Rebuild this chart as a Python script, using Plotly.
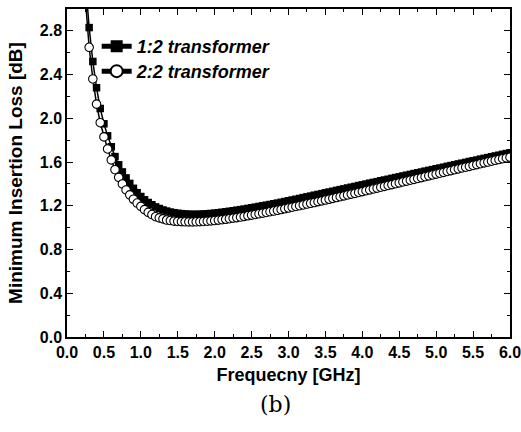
import plotly.graph_objects as go

freq = [0.25, 0.30, 0.35, 0.40, 0.45, 0.50, 0.55, 0.60, 0.65, 0.70, 0.75, 0.80, 0.85, 0.90, 0.95,
        1.00, 1.05, 1.10, 1.15, 1.20, 1.25, 1.30, 1.35, 1.40, 1.45, 1.50, 1.55, 1.60, 1.65, 1.70, 1.75,
        1.80, 1.85, 1.90, 1.95, 2.00, 2.05, 2.10, 2.15, 2.20, 2.25, 2.30, 2.35, 2.40, 2.45, 2.50,
        2.55, 2.60, 2.65, 2.70, 2.75, 2.80, 2.85, 2.90, 2.95, 3.00, 3.05, 3.10, 3.15, 3.20, 3.25,
        3.30, 3.35, 3.40, 3.45, 3.50, 3.55, 3.60, 3.65, 3.70, 3.75, 3.80, 3.85, 3.90, 3.95, 4.00,
        4.05, 4.10, 4.15, 4.20, 4.25, 4.30, 4.35, 4.40, 4.45, 4.50, 4.55, 4.60, 4.65, 4.70, 4.75,
        4.80, 4.85, 4.90, 4.95, 5.00, 5.05, 5.10, 5.15, 5.20, 5.25, 5.30, 5.35, 5.40, 5.45, 5.50,
        5.55, 5.60, 5.65, 5.70, 5.75, 5.80, 5.85, 5.90, 5.95, 6.00]

loss_1to2 = [3.25, 2.83, 2.52, 2.28, 2.09, 1.95, 1.84, 1.74, 1.65, 1.575, 1.51, 1.455, 1.405, 1.36, 1.32,
             1.285, 1.255, 1.23, 1.21, 1.19, 1.175, 1.162, 1.152, 1.143, 1.137, 1.132, 1.128, 1.125, 1.123, 1.122, 1.122,
             1.123, 1.125, 1.127, 1.130, 1.133, 1.137, 1.141, 1.145, 1.150, 1.155, 1.160, 1.165, 1.170, 1.176, 1.182,
             1.188, 1.194, 1.200, 1.206, 1.212, 1.219, 1.225, 1.232, 1.239, 1.246, 1.253, 1.260, 1.267, 1.275, 1.282,
             1.289, 1.297, 1.304, 1.311, 1.319, 1.326, 1.333, 1.341, 1.348, 1.355, 1.363, 1.370, 1.377, 1.385, 1.392,
             1.399, 1.407, 1.414, 1.421, 1.429, 1.436, 1.443, 1.451, 1.458, 1.465, 1.473, 1.480, 1.487, 1.495, 1.502,
             1.509, 1.517, 1.524, 1.531, 1.539, 1.546, 1.553, 1.561, 1.568, 1.575, 1.583, 1.590, 1.597, 1.605, 1.612,
             1.619, 1.627, 1.634, 1.641, 1.649, 1.656, 1.663, 1.671, 1.678, 1.685]

loss_2to2 = [3.08, 2.65, 2.36, 2.13, 1.96, 1.83, 1.72, 1.62, 1.53, 1.46, 1.40, 1.345, 1.30, 1.26, 1.225,
             1.195, 1.165, 1.14, 1.12, 1.10, 1.09, 1.08, 1.07, 1.065, 1.06, 1.057, 1.055, 1.054, 1.053, 1.053, 1.054,
             1.055, 1.057, 1.059, 1.062, 1.065, 1.069, 1.073, 1.077, 1.082, 1.087, 1.092, 1.097, 1.103, 1.109, 1.115,
             1.121, 1.127, 1.133, 1.139, 1.146, 1.152, 1.159, 1.166, 1.173, 1.180, 1.187, 1.194, 1.201, 1.208, 1.216,
             1.223, 1.230, 1.238, 1.245, 1.253, 1.260, 1.268, 1.276, 1.283, 1.291, 1.299, 1.307, 1.314, 1.322, 1.330,
             1.338, 1.346, 1.354, 1.362, 1.370, 1.378, 1.386, 1.394, 1.402, 1.410, 1.418, 1.426, 1.434, 1.442, 1.450,
             1.458, 1.466, 1.474, 1.482, 1.490, 1.498, 1.506, 1.514, 1.522, 1.530, 1.538, 1.546, 1.553, 1.561, 1.569,
             1.577, 1.585, 1.593, 1.600, 1.608, 1.616, 1.623, 1.631, 1.638, 1.645]

series_names = ["1:2 transformer", "2:2 transformer"]
x_ticks = [0.0, 0.5, 1.0, 1.5, 2.0, 2.5, 3.0, 3.5, 4.0, 4.5, 5.0, 5.5, 6.0]
y_ticks = [0.0, 0.4, 0.8, 1.2, 1.6, 2.0, 2.4, 2.8]

FONT = "Liberation Sans, Arial, sans-serif"

fig = go.Figure()
fig.add_trace(go.Scatter(
    x=freq, y=loss_1to2, name=series_names[0], mode="lines+markers", legend="legend",
    line=dict(color="black", width=1.5),
    marker=dict(symbol="square", size=7.5, color="black", line=dict(color="black", width=0)),
))
fig.add_trace(go.Scatter(
    x=freq, y=loss_2to2, name=series_names[1], mode="lines+markers", legend="legend2",
    line=dict(color="black", width=1.5),
    marker=dict(symbol="circle", size=8.5, color="white", line=dict(color="black", width=1.1)),
))

axis_common = dict(
    showline=True, linecolor="black", linewidth=1.5, mirror="ticks",
    ticks="inside", ticklen=6, tickwidth=1.2, tickcolor="black",
    showgrid=False, zeroline=False, automargin=False, ticklabeloverflow="allow",
    tickfont=dict(family=FONT, size=16, color="black", weight="bold"),
)

fig.update_xaxes(
    range=[0, 6], tickvals=x_ticks, ticktext=[f"{v:.1f}" for v in x_ticks],
    title=dict(text="Frequecny [GHz]", font=dict(family=FONT, size=18, color="black", weight="bold"), standoff=8),
    minor=dict(ticks="inside", ticklen=3, tickwidth=1, tickcolor="black", dtick=0.25),
    **axis_common,
)
fig.update_yaxes(
    range=[0, 3.0], tickvals=y_ticks, ticktext=[f"{v:.1f}" for v in y_ticks],
    title=dict(text="Minimum Insertion Loss [dB]", font=dict(family=FONT, size=19, color="black", weight="bold"), standoff=12),
    minor=dict(ticks="inside", ticklen=3, tickwidth=1, tickcolor="black", dtick=0.2),
    **axis_common,
)

legend_common = dict(
    xanchor="left", yanchor="top",
    bgcolor="rgba(0,0,0,0)", borderwidth=0,
    font=dict(family=FONT, size=18, color="black", weight="bold", style="italic"),
    itemsizing="constant",
)

fig.update_layout(
    width=521, height=432,
    margin=dict(l=67, r=11, t=9, b=95),
    paper_bgcolor="white", plot_bgcolor="white",
    showlegend=True,
    legend=dict(x=0.067, y=0.942, **legend_common),
    legend2=dict(x=0.067, y=0.866, **legend_common),
    annotations=[dict(
        text="(b)", x=0.47, xref="paper", y=-0.207, yref="paper",
        xanchor="center", yanchor="middle", showarrow=False,
        font=dict(family="DejaVu Serif, Liberation Serif, serif", size=22, color="black"),
    )],
)

fig.write_html("out.html", config={"displayModeBar": False},
               post_script="document.body.style.margin='0px';")
